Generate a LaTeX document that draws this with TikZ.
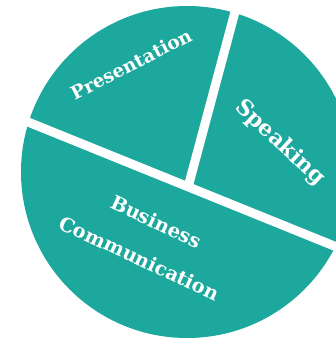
\documentclass[tikz,border=0pt]{standalone}
\usepackage{fontspec}
\setmainfont{DejaVu Serif}
\definecolor{pie}{RGB}{28,168,157}
\begin{document}
\begin{tikzpicture}[x=1pt,y=-1pt,
  lbl/.style={text=white,inner sep=0pt},
  gap/.style={white,line width=9pt}]
\useasboundingbox (0,0) rectangle (336,342);
\clip (0,0) rectangle (336,342);
\fill[pie] (187,172) circle[radius=166];
\coordinate (b1s) at (-10,106.6);
\coordinate (b1e) at (350,252.4);
\coordinate (j) at (188.1,186.8);
\coordinate (t) at (240.2,-7.5);
\draw[gap] (b1s) -- (b1e);
\draw[gap] (j) -- (t);
\node[lbl,rotate=27,font=\bfseries\fontsize{18.5}{22}\selectfont] (pres) at (131,64) {Presentation};
\node[lbl,rotate=-43,font=\bfseries\fontsize{22}{26}\selectfont] (speak) at (280,143) {Speaking};
\node[lbl,rotate=-25,align=center,font=\bfseries\fontsize{19.5}{40}\selectfont] (bc) at (148,240) {Business\\Communication};
\end{tikzpicture}
\end{document}
